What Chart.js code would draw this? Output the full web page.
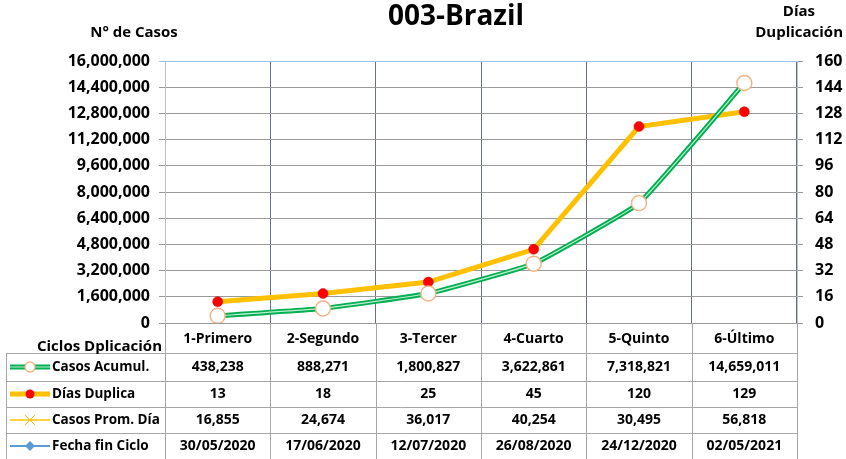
<!DOCTYPE html>
<html>
<head>
<meta charset="utf-8">
<script src="https://cdn.jsdelivr.net/npm/chart.js@4"></script>
<style>
  html,body{margin:0;padding:0;background:#fff;}
  #wrap{width:846px;height:459px;position:relative;}
</style>
</head>
<body>
<div id="wrap"><canvas id="chart" width="846" height="459"></canvas></div>
<script>
// ===== data =====
const CATEGORIES = ['1-Primero','2-Segundo','3-Tercer','4-Cuarto','5-Quinto','6-Último'];
const CASOS_ACUMUL = [438238, 888271, 1800827, 3622861, 7318821, 14659011];
const DIAS_DUPLICA = [13, 18, 25, 45, 120, 129];
const CASOS_PROM_DIA = [16855, 24674, 36017, 40254, 30495, 56818];
const FECHA_FIN = ['30/05/2020','17/06/2020','12/07/2020','26/08/2020','24/12/2020','02/05/2021'];
const ROW_LABELS = ['Casos Acumul.','Días Duplica','Casos Prom. Día','Fecha fin Ciclo'];

const FONT = '"Open Sans", "Noto Sans", sans-serif';
const GREEN = '#00B050', ORANGE = '#FFC000', RED = '#FF0000', RING = '#F4B183', BLUE = '#5B9BD5';
const fmt = n => n.toLocaleString('en-US');

// table rows drawn under the plot
const TABLE_ROWS = [
  CASOS_ACUMUL.map(fmt),
  DIAS_DUPLICA.map(String),
  CASOS_PROM_DIA.map(fmt),
  FECHA_FIN,
];

function drawKey(ctx, i, y){
  const x0 = 10, x1 = 50, xm = 30;
  ctx.save();
  ctx.lineCap = 'butt';
  if (i === 0){
    ctx.strokeStyle = GREEN; ctx.lineWidth = 5;
    ctx.beginPath(); ctx.moveTo(x0,y); ctx.lineTo(x1,y); ctx.stroke();
    ctx.strokeStyle = 'rgba(255,255,255,0.75)'; ctx.lineWidth = 1.2;
    ctx.beginPath(); ctx.moveTo(x0,y); ctx.lineTo(x1,y); ctx.stroke();
    ctx.fillStyle = '#fff'; ctx.strokeStyle = RING; ctx.lineWidth = 1.3;
    ctx.beginPath(); ctx.arc(xm,y,5,0,Math.PI*2); ctx.fill(); ctx.stroke();
  } else if (i === 1){
    ctx.strokeStyle = ORANGE; ctx.lineWidth = 5;
    ctx.beginPath(); ctx.moveTo(x0,y); ctx.lineTo(x1,y); ctx.stroke();
    ctx.fillStyle = RED;
    ctx.beginPath(); ctx.arc(xm,y,4.5,0,Math.PI*2); ctx.fill();
  } else if (i === 2){
    ctx.strokeStyle = ORANGE; ctx.lineWidth = 1.5;
    ctx.beginPath(); ctx.moveTo(x0,y); ctx.lineTo(x1,y); ctx.stroke();
    ctx.lineWidth = 1;
    ctx.beginPath(); ctx.moveTo(xm-5,y-5); ctx.lineTo(xm+5,y+5); ctx.moveTo(xm-5,y+5); ctx.lineTo(xm+5,y-5); ctx.stroke();
  } else {
    ctx.strokeStyle = BLUE; ctx.lineWidth = 2;
    ctx.beginPath(); ctx.moveTo(x0,y); ctx.lineTo(x1,y); ctx.stroke();
    ctx.fillStyle = BLUE;
    ctx.beginPath(); ctx.moveTo(xm,y-5); ctx.lineTo(xm+5,y); ctx.lineTo(xm,y+5); ctx.lineTo(xm-5,y); ctx.closePath(); ctx.fill();
  }
  ctx.restore();
}

const tablePlugin = {
  id:'dataTable',
  afterDraw(chart){
    const {ctx, chartArea:a, scales:{x}} = chart;
    const step = x.getPixelForValue(1) - x.getPixelForValue(0);
    const top = a.bottom, bottom = chart.height;
    const rowLines = [353, 381, 407, 433];
    const headerY = 339;
    const rowY = [367, 394, 420, 446];

    ctx.save();
    ctx.strokeStyle = '#a6a6a6'; ctx.lineWidth = 1;
    // horizontal lines
    rowLines.forEach(y => {
      ctx.beginPath(); ctx.moveTo(6, y+0.5); ctx.lineTo(a.right, y+0.5); ctx.stroke();
    });
    // vertical lines
    ctx.beginPath(); ctx.moveTo(6.5, rowLines[0]); ctx.lineTo(6.5, bottom); ctx.stroke();
    for (let i = 0; i <= CATEGORIES.length; i++){
      const px = Math.round(x.getPixelForValue(i) - step/2) + 0.5;
      ctx.beginPath(); ctx.moveTo(px, top); ctx.lineTo(px, bottom); ctx.stroke();
    }

    ctx.fillStyle = '#000';
    ctx.textBaseline = 'middle';
    ctx.font = `bold 14px ${FONT}`;
    ctx.textAlign = 'center';
    CATEGORIES.forEach((c,i) => ctx.fillText(c, x.getPixelForValue(i), headerY));
    TABLE_ROWS.forEach((row, r) => {
      row.forEach((v,i) => ctx.fillText(v, x.getPixelForValue(i), rowY[r]));
    });
    ctx.textAlign = 'left';
    ctx.font = `bold 13.5px ${FONT}`;
    ROW_LABELS.forEach((l, r) => {
      drawKey(ctx, r, rowY[r]);
      ctx.fillStyle = '#000';
      ctx.fillText(l, 52, rowY[r]);
    });
    ctx.font = `bold 15px ${FONT}`;
    ctx.textAlign = 'right';
    ctx.fillText('Ciclos Dplicación', 162, 347);

    // titles
    ctx.textAlign = 'center';
    ctx.font = `bold 28px ${FONT}`;
    ctx.fillText('003-Brazil', 456, 17);
    ctx.font = `bold 15px ${FONT}`;
    ctx.fillText('N° de Casos', 134, 33);
    ctx.textAlign = 'right';
    ctx.fillText('Días', 815, 12);
    ctx.fillText('Duplicación', 843, 33);
    ctx.restore();
  }
};

new Chart(document.getElementById('chart'), {
  type:'line',
  data:{
    labels:CATEGORIES,
    datasets:[
      { // white centre stripe + markers of the accumulated cases
        data:CASOS_ACUMUL, yAxisID:'y',
        borderColor:'rgba(255,255,255,0.75)', borderWidth:1.2, tension:0.1,
        pointRadius:7.5, pointBackgroundColor:'#fff', pointBorderColor:RING, pointBorderWidth:1.4,
      },
      {
        data:CASOS_ACUMUL, yAxisID:'y',
        borderColor:GREEN, borderWidth:5, tension:0.1, pointRadius:0,
      },
      {
        data:DIAS_DUPLICA, yAxisID:'y1',
        borderColor:ORANGE, borderWidth:5, tension:0,
        pointRadius:5, pointBackgroundColor:RED, pointBorderColor:'#d00000', pointBorderWidth:0.5,
      },
    ]
  },
  options:{
    responsive:false, animation:false,
    layout:{padding:{top:61, bottom:136, left:0, right:0}},
    plugins:{legend:{display:false}, tooltip:{enabled:false}},
    scales:{
      x:{
        offset:true,
        grid:{offset:true, drawTicks:false,
          color:c => (c.index === 0 || c.index === CATEGORIES.length) ? '#bfbfbf' : '#66708a'},
        border:{display:false},
        ticks:{display:false},
        afterFit:s => { s.height = 0; },
      },
      y:{
        position:'left', min:0, max:16000000,
        grid:{color:c => c.tick && c.tick.value === 16000000 ? '#9dc3e6' : '#9a9a9a', tickLength:6},
        border:{color:'#bfbfbf'},
        ticks:{stepSize:1600000, color:'#000', padding:9, font:{family:FONT, size:16, weight:'bold'},
          callback:v => fmt(v)},
        afterFit:s => { s.width = 165; },
      },
      y1:{
        position:'right', min:0, max:160,
        grid:{drawOnChartArea:false, color:'#9a9a9a', tickLength:6},
        border:{color:'#bfbfbf'},
        ticks:{stepSize:16, color:'#000', padding:12, font:{family:FONT, size:16, weight:'bold'}},
        afterFit:s => { s.width = 846 - 797; },
      }
    }
  },
  plugins:[tablePlugin]
});
</script>
</body>
</html>
